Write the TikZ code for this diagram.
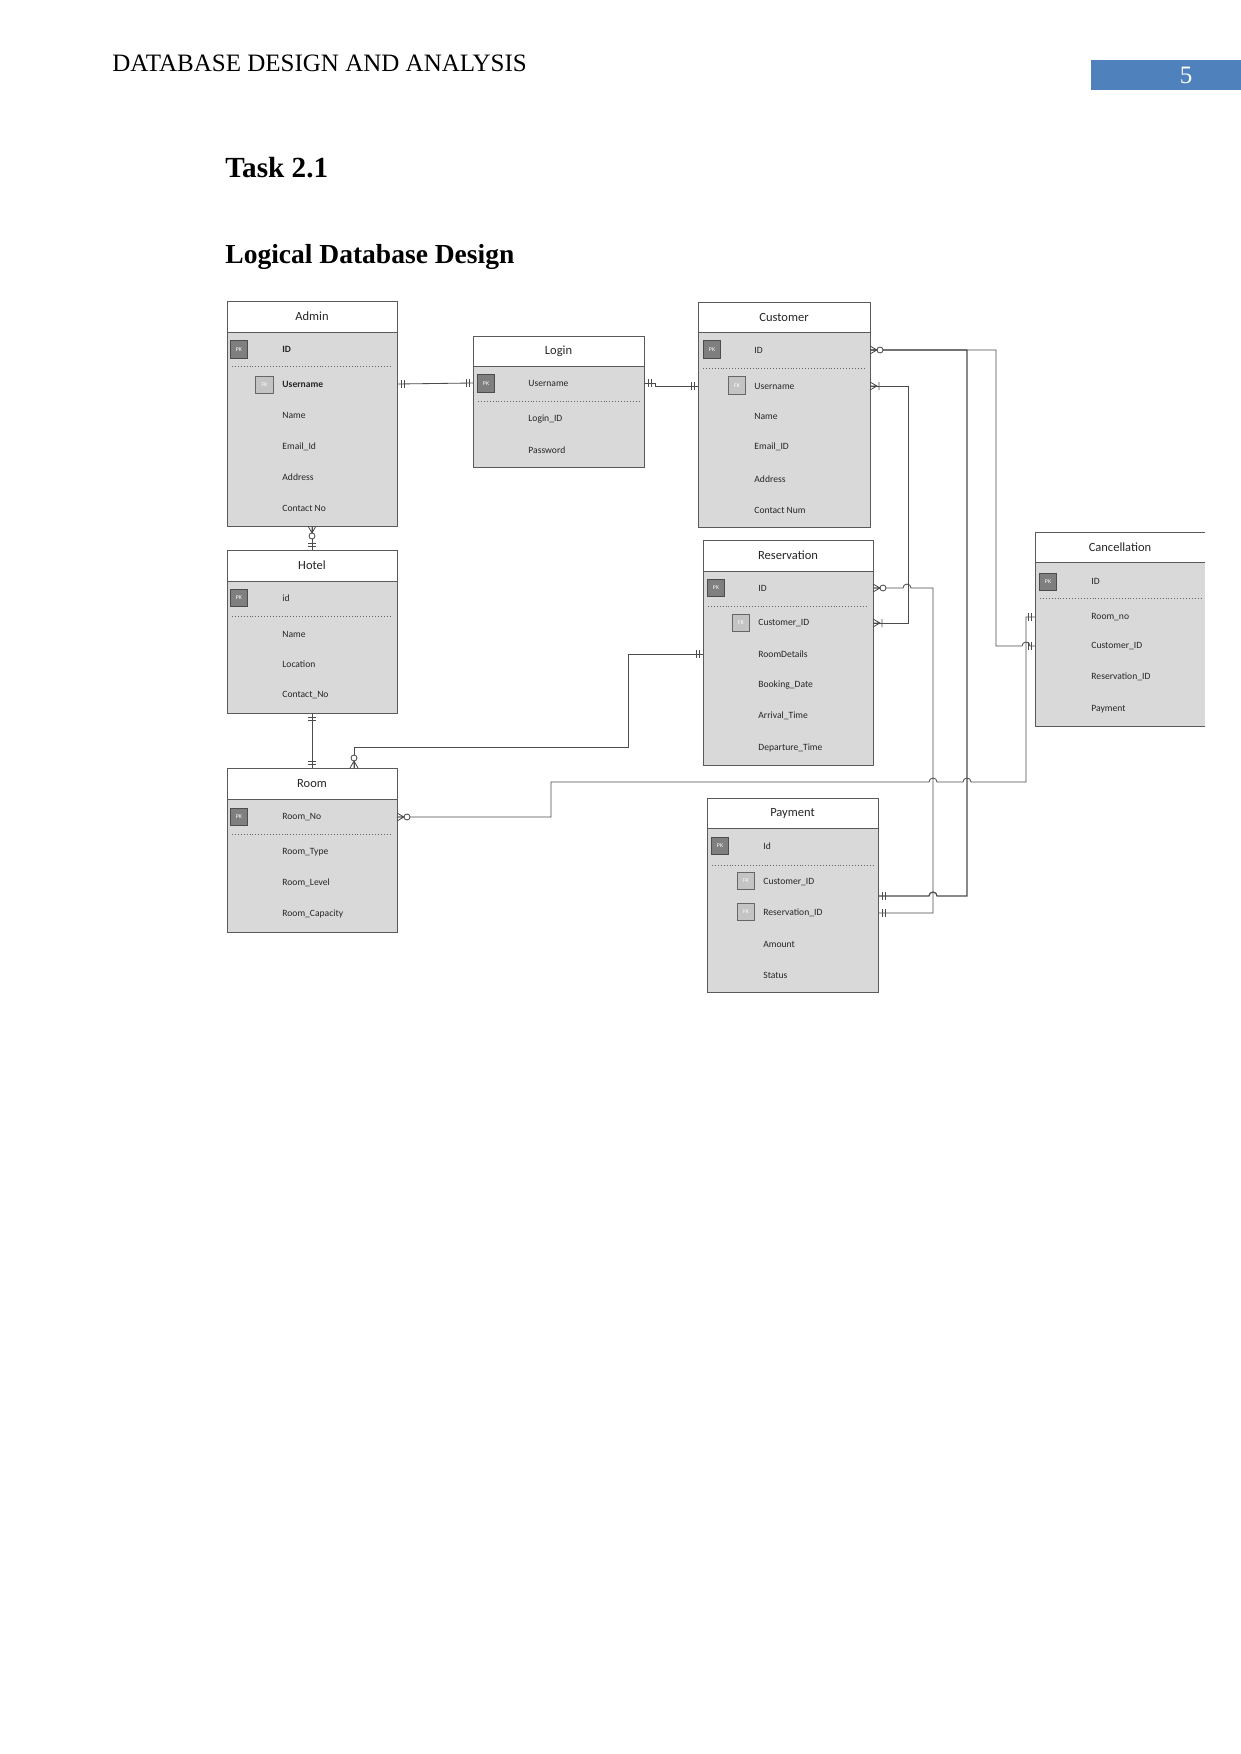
\documentclass[tikz,border=0pt]{standalone}
\usepackage{fontspec}
\setmainfont{Liberation Serif}
\newfontfamily\erfont{Carlito}
\usetikzlibrary{calc}
\definecolor{bodyg}{HTML}{D9D9D9}
\definecolor{pkg}{HTML}{7F7F7F}
\definecolor{fkg}{HTML}{C4C4C4}
\definecolor{edgec}{HTML}{5A5A5A}
\definecolor{hdrblue}{HTML}{4F81BD}
\def\pxu{0.4797}
\newcommand\entbox[7]{%
 \pgfmathsetmacro\ew{(#4-#2)*\pxu}%
 \pgfmathsetmacro\eh{(#6-#3)*\pxu}%
 \node[ent, minimum width=\ew pt, minimum height=\eh pt] (#1) at (#2,#3) {};
 \fill[white] (#2,#3) rectangle (#4,#5);
 \draw[edgest] (#2,#3) rectangle (#4,#6);
 \draw[edgest] (#2,#5) -- (#4,#5);
 \node[ttl] (#1-t) at ({(#2+#4)/2},{(#3+#5)/2}) {#7};
}
\tikzset{
 ent/.style={draw=none, fill=bodyg, inner sep=0pt, outer sep=0pt, anchor=north west},
 edgest/.style={draw=edgec, line width=0.45pt},
 ttl/.style={font=\erfont\fontsize{6}{7}\selectfont, text=black!85, inner sep=0pt},
 attr/.style={font=\erfont\fontsize{4.6}{5.5}\selectfont, anchor=west, inner sep=0pt, text=black!85},
 battr/.style={attr, font=\erfont\bfseries\fontsize{4.6}{5.5}\selectfont},
 pkbox/.style={draw=black!70, fill=pkg, minimum size=8.5pt, inner sep=0pt, line width=0.4pt, font=\erfont\fontsize{2.8}{3}\selectfont, text=white},
 fkbox/.style={pkbox, fill=fkg, draw=black!60},
 sepline/.style={densely dotted, draw=black!60, line width=0.4pt},
 conn/.style={draw=black!70, line width=0.4pt},
 mkone/.pic={\draw[conn] (4,-4) -- (4,4) (7,-4) -- (7,4);},
 mkzm/.pic={\draw[conn] (0,-4) -- (7,0) -- (0,4) (0,0) -- (7,0); \draw[conn, fill=white] (10,0) circle[radius=3];},
 mkom/.pic={\draw[conn] (0,-4) -- (7,0) -- (0,4) (0,0) -- (7,0) (9,-4) -- (9,4);},
}
\begin{document}
\begin{tikzpicture}[x=0.4797pt,y=-0.4797pt]
\useasboundingbox (0,0) rectangle (1241,1754);
\fill[white] (0,0) rectangle (1241,1754);
% header
\node[anchor=base west, inner sep=0pt, font=\fontsize{12}{14}\selectfont] (hdr) at (112,72) {DATABASE DESIGN AND ANALYSIS};
\node[fill=hdrblue, minimum width=72pt, minimum height=14pt, inner sep=0pt, anchor=north west] (pgbox) at (1091,60) {};
\node[text=white, font=\fontsize{12}{14}\selectfont, inner sep=0pt] (pgnum) at (1186,75) {5};
\node[anchor=base west, inner sep=0pt, font=\bfseries\fontsize{14}{16}\selectfont] (task) at (225,177) {Task 2.1};
\node[anchor=base west, inner sep=0pt, font=\bfseries\fontsize{13.2}{16}\selectfont] (ldd) at (225,263) {Logical Database Design};

% Admin
\entbox{admin}{227}{301}{397}{332}{526}{Admin}
\node[pkbox] (a-pk) at (239,349.5) {PK};
\node[battr] (a-id) at (282,349) {ID};
\draw[sepline] (232,366) -- (392,366);
\node[fkbox] (a-fk) at (264.5,385) {FK};
\node[battr] (a-user) at (282,384) {Username};
\node[attr] (a-name) at (282,415) {Name};
\node[attr] (a-mail) at (282,447) {Email\_Id};
\node[attr] (a-addr) at (282,477) {Address};
\node[attr] (a-cont) at (282,508) {Contact No};

% Login
\entbox{login}{473}{336}{644}{366}{467}{Login}
\node[pkbox] (l-pk) at (486,383.5) {PK};
\node[attr] (l-user) at (528,383) {Username};
\draw[sepline] (478,401) -- (639,401);
\node[attr] (l-lid) at (528,419) {Login\_ID};
\node[attr] (l-pw) at (528,450) {Password};

% Customer
\entbox{cust}{698}{302}{870}{332}{527}{Customer}
\node[pkbox] (cu-pk) at (712,349.5) {PK};
\node[attr] (cu-id) at (754,350) {ID};
\draw[sepline] (703,368) -- (865,368);
\node[fkbox] (cu-fk) at (737,385.5) {FK};
\node[attr] (cu-user) at (754,386) {Username};
\node[attr] (cu-name) at (754,416) {Name};
\node[attr] (cu-mail) at (754,447) {Email\_ID};
\node[attr] (cu-addr) at (754,479) {Address};
\node[attr] (cu-cont) at (754,510) {Contact Num};

% Hotel
\entbox{hotel}{227}{550}{397}{581}{713}{Hotel}
\node[pkbox] (h-pk) at (239,598) {PK};
\node[attr] (h-id) at (282,598) {id};
\draw[sepline] (232,616) -- (392,616);
\node[attr] (h-name) at (282,634) {Name};
\node[attr] (h-loc) at (282,664) {Location};
\node[attr] (h-cont) at (282,695) {Contact\_No};

% Room
\entbox{room}{227}{768}{397}{799}{932}{Room}
\node[pkbox] (m-pk) at (239,817) {PK};
\node[attr] (m-no) at (282,817) {Room\_No};
\draw[sepline] (232,834) -- (392,834);
\node[attr] (m-type) at (282,852) {Room\_Type};
\node[attr] (m-lev) at (282,883) {Room\_Level};
\node[attr] (m-cap) at (282,914) {Room\_Capacity};

% Reservation
\entbox{res}{703}{540}{873}{571}{765}{Reservation}
\node[pkbox] (r-pk) at (716,588) {PK};
\node[attr] (r-id) at (758,588) {ID};
\draw[sepline] (708,606) -- (868,606);
\node[fkbox] (r-fk) at (741,623) {FK};
\node[attr] (r-cust) at (758,623) {Customer\_ID};
\node[attr] (r-rd) at (758,654) {RoomDetails};
\node[attr] (r-bd) at (758,685) {Booking\_Date};
\node[attr] (r-at) at (758,716) {Arrival\_Time};
\node[attr] (r-dt) at (758,748) {Departure\_Time};

% Payment
\entbox{pay}{707}{798}{878}{828}{992}{Payment}
\node[pkbox] (p-pk) at (720,846) {PK};
\node[attr] (p-id) at (763,846) {Id};
\draw[sepline] (712,865) -- (873,865);
\node[fkbox] (p-fk1) at (746,881) {FK};
\node[attr] (p-cust) at (763,882) {Customer\_ID};
\node[fkbox] (p-fk2) at (746,912) {FK};
\node[attr] (p-res) at (763,913) {Reservation\_ID};
\node[attr] (p-amt) at (763,944) {Amount};
\node[attr] (p-st) at (763,975) {Status};

% Cancellation (open right side)
\node[ent, minimum width=81.55pt, minimum height=93.07pt] (canc) at (1035,532) {};
\fill[white] (1035,532) rectangle (1205,562);
\draw[edgest] (1205,532) -- (1035,532) -- (1035,726) -- (1205,726);
\draw[edgest] (1035,562) -- (1205,562);
\node[ttl] (canc-t) at (1120,547) {Cancellation};
\node[pkbox] (c-pk) at (1048,582) {PK};
\node[attr] (c-id) at (1091,581) {ID};
\draw[sepline] (1040,598) -- (1203,598);
\node[attr] (c-room) at (1091,617) {Room\_no};
\node[attr] (c-cust) at (1091,646) {Customer\_ID};
\node[attr] (c-res) at (1091,677) {Reservation\_ID};
\node[attr] (c-pay) at (1091,709) {Payment};

% connector bend points
\coordinate (rb1) at (628,747);
\coordinate (rtop) at ($(room.north west)+(127,0)$);
\coordinate (c6a) at (551,782);
\coordinate (c6b) at (1026,782);
\coordinate (c7b) at (996,646);
\coordinate (c8b) at (967,896);
\coordinate (c9b) at (908,623);
\coordinate (c10b) at (933,913);
\coordinate (pcl) at ($(pay.east |- p-cust)+(0,14)$);

% connectors
\draw[conn] (admin.east |- a-user) -- (login.west |- l-user);
\draw[conn] (login.east |- l-user) -- ++(11,0) |- (cust.west |- cu-user);
\draw[conn] (admin.south) -- (hotel.north);
\draw[conn] (hotel.south) -- (room.north);
\draw[conn] (res.west |- r-rd) -| (rb1) -| (rtop);
\draw[conn] (room.east |- m-no) -| (c6a) -- (929,782) arc[start angle=180,end angle=0,radius=1.92pt] -- (963,782) arc[start angle=180,end angle=0,radius=1.92pt] -- (c6b) |- (canc.west |- c-room);
\draw[conn] (cust.east |- cu-id) -| (c7b) -- (1022,646) arc[start angle=180,end angle=0,radius=1.92pt] -- (canc.west |- c-cust);
\draw[conn, line width=0.6pt] (cust.east |- cu-id) -| (c8b) -- (937,896) arc[start angle=0,end angle=180,radius=1.92pt] -- (pcl);
\draw[conn] (cust.east |- cu-user) -| (c9b) -- (res.east |- r-cust);
\draw[conn] (res.east |- r-id) -- (903,588) arc[start angle=180,end angle=0,radius=1.92pt] -| (c10b) -- (pay.east |- p-res);

% end markers
\pic at (admin.east |- a-user) {mkone};
\pic[rotate=180] at (login.west |- l-user) {mkone};
\pic at (login.east |- l-user) {mkone};
\pic[rotate=180] at (cust.west |- cu-user) {mkone};
\pic[rotate=-90] at (admin.south) {mkzm};
\pic[rotate=90] at (hotel.north) {mkone};
\pic[rotate=-90] at (hotel.south) {mkone};
\pic[rotate=90] at (room.north) {mkone};
\pic[rotate=180] at (res.west |- r-rd) {mkone};
\pic[rotate=90] at (rtop) {mkzm};
\pic at (room.east |- m-no) {mkzm};
\pic[rotate=180] at (canc.west |- c-room) {mkone};
\pic at (cust.east |- cu-id) {mkzm};
\pic[rotate=180] at (canc.west |- c-cust) {mkone};
\pic at (pcl) {mkone};
\pic at (cust.east |- cu-user) {mkom};
\pic at (res.east |- r-cust) {mkom};
\pic at (res.east |- r-id) {mkzm};
\pic at (pay.east |- p-res) {mkone};
\end{tikzpicture}
\end{document}
